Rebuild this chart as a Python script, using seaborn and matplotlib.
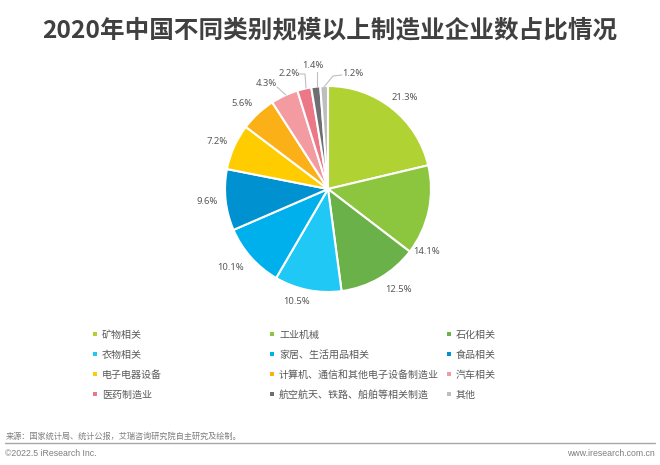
import matplotlib
matplotlib.use('Agg')
import matplotlib.pyplot as plt
import seaborn as sns

# 数据
categories = ['矿物相关', '工业机械', '石化相关',
              '衣物相关', '家居、生活用品相关', '食品相关',
              '电子电器设备', '计算机、通信和其他电子设备制造业', '汽车相关',
              '医药制造业', '航空航天、铁路、船舶等相关制造', '其他']
shares = [21.3, 14.1, 12.5, 10.5, 10.1, 9.6, 7.2, 5.6, 4.3, 2.2, 1.4, 1.2]
hex_colors = ['#B0D232', '#8CC63F', '#69B148', '#1FC8F5', '#00B0EC', '#0092D0',
              '#FFCC00', '#FBB017', '#F49AA1', '#EC7887', '#6E6E73', '#BEBEBE']

# 标签位置（像素坐标）
label_pos = [(405, 98), (427, 252), (399, 290), (297, 302), (231, 267), (207, 201),
             (217, 142), (242, 103), (266, 83), (289, 74), (313, 66), (353, 74)]
leaders = [[(277, 87), (286, 95)],
           [(299, 74), (305, 74), (306, 88)],
           [(317, 72), (317, 87)],
           [(342, 75), (333, 76), (324, 87)]]

sns.set_theme(style='white')
plt.rcParams['font.family'] = ['Noto Sans CJK SC', 'DejaVu Sans']
palette = sns.color_palette(hex_colors)

W, H = 660, 465
fig = plt.figure(figsize=(W / 100, H / 100), dpi=100)
ax = fig.add_axes([0, 0, 1, 1])


def py(y):
    return H - y


ax.pie(shares, colors=palette, startangle=90, counterclock=False,
       center=(328, py(189)), radius=103,
       wedgeprops={'edgecolor': 'white', 'linewidth': 1.5})
ax.set_xlim(0, W)
ax.set_ylim(0, H)
ax.set_aspect('equal')
ax.axis('off')

# 标题
ax.text(330, py(30), '2020年中国不同类别规模以上制造业企业数占比情况', ha='center', va='center',
        fontsize=17.7, fontweight='bold', color='#404040')

# 数据标签
for val, (x, y) in zip(shares, label_pos):
    ax.text(x, py(y), f'{val}%', ha='center', va='center', fontsize=6.8,
            family='Noto Sans', color='#595959')

for line in leaders:
    ax.plot([p[0] for p in line], [py(p[1]) for p in line], color='#BFBFBF', lw=0.8)

# 图例
col_x = [95, 272, 449]
row_y = [334, 354, 374, 394]
for i, name in enumerate(categories):
    x = col_x[i % 3]
    y = row_y[i // 3]
    ax.scatter(x, py(y), marker='s', s=9, color=palette[i], linewidths=0)
    ax.text(x + 7, py(y + 1), name, ha='left', va='center', fontsize=7.2, color='#595959')

# 底部
ax.text(6, py(436), '来源：国家统计局、统计公报，艾瑞咨询研究院自主研究及绘制。', ha='left', va='center',
        fontsize=5.9, color='#7F7F7F')
ax.plot([5, 655], [py(443), py(443)], color='#A6A6A6', lw=1)
ax.text(5, py(453), '©2022.5 iResearch Inc.', ha='left', va='center', fontsize=6.3,
        family='Liberation Sans', color='#7F7F7F')
ax.text(655, py(453), 'www.iresearch.com.cn', ha='right', va='center', fontsize=6.3,
        family='Liberation Sans', color='#7F7F7F')

fig.savefig('out.png', dpi=100, facecolor='white')
